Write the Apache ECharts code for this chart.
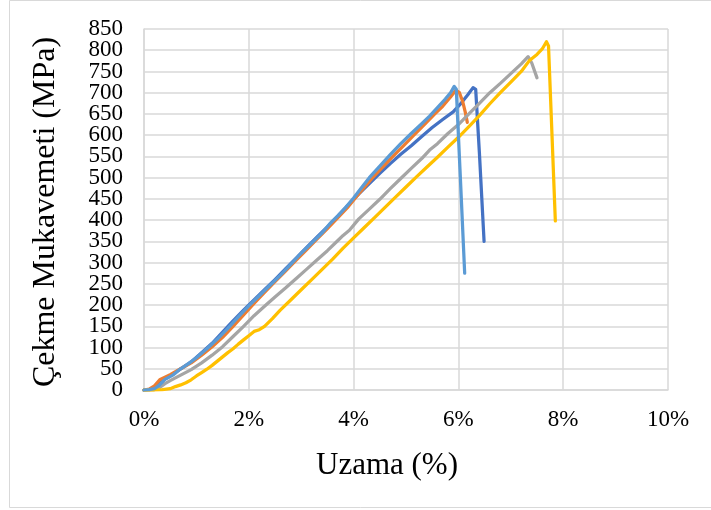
<!DOCTYPE html>
<html>
<head>
<meta charset="utf-8">
<script src="https://cdn.jsdelivr.net/npm/echarts@6/dist/echarts.min.js"></script>
<style>
  html, body { margin: 0; padding: 0; background: #ffffff; }
  #chart { width: 711px; height: 510px; }
</style>
</head>
<body>
<div id="chart"></div>
<script>
// Tensile tests: elongation (%) vs. tensile strength (MPa), five specimens
const xTicks = { min: 0, max: 10, interval: 2 };
const yTicks = { min: 0, max: 850, interval: 50 };

const numune1 = [[0,0],[0.1,1],[0.2,4],[0.3,15],[0.4,26],[0.5,33],[0.7,50],[0.9,66],[1.1,88],[1.3,110],[1.5,136],[1.7,163],[1.9,188],[2.1,212],[2.3,236],[2.5,260],[2.7,285],[2.9,310],[3.1,335],[3.3,360],[3.5,384],[3.7,410],[3.9,436],[4.1,462],[4.3,486],[4.5,510],[4.7,533],[4.9,555],[5.1,575],[5.3,597],[5.5,618],[5.7,637],[5.9,655],[6.05,675],[6.18,695],[6.28,712],[6.33,708],[6.4,560],[6.49,350]];

const numune2 = [[0,0],[0.1,2],[0.2,10],[0.3,24],[0.4,30],[0.5,36],[0.7,50],[0.9,64],[1.1,82],[1.3,102],[1.5,124],[1.7,150],[1.9,177],[2.1,204],[2.3,230],[2.5,255],[2.7,280],[2.9,305],[3.1,330],[3.3,355],[3.5,380],[3.7,406],[3.9,432],[4.1,462],[4.35,498],[4.55,524],[4.75,550],[4.95,575],[5.15,600],[5.35,625],[5.55,650],[5.7,668],[5.85,690],[5.95,706],[6.02,700],[6.08,680],[6.13,655],[6.17,630]];

const numune3 = [[0,0],[0.2,1],[0.3,6],[0.4,15],[0.5,22],[0.7,35],[0.9,48],[1.1,64],[1.3,82],[1.5,102],[1.7,126],[1.9,150],[2.1,175],[2.3,197],[2.5,219],[2.7,240],[2.9,262],[3.1,284],[3.3,306],[3.5,328],[3.7,352],[3.8,364],[3.92,376],[4.1,403],[4.3,426],[4.5,449],[4.7,474],[4.9,498],[5.1,522],[5.3,545],[5.45,565],[5.6,580],[5.8,604],[6.0,625],[6.2,650],[6.4,675],[6.6,700],[6.8,722],[7.0,745],[7.2,768],[7.33,785],[7.4,770],[7.5,735]];

const numune4 = [[0,0],[0.2,0],[0.35,1],[0.5,3],[0.6,8],[0.7,12],[0.8,17],[0.9,24],[1.0,33],[1.1,41],[1.2,49],[1.3,58],[1.4,68],[1.5,78],[1.6,88],[1.7,97],[1.8,108],[1.9,118],[2.0,128],[2.1,138],[2.2,142],[2.3,150],[2.45,168],[2.6,188],[2.8,212],[3.0,236],[3.2,260],[3.4,284],[3.6,308],[3.8,334],[4.0,358],[4.2,382],[4.4,406],[4.6,430],[4.8,454],[5.0,478],[5.2,502],[5.4,525],[5.6,548],[5.8,572],[6.0,595],[6.2,620],[6.4,646],[6.6,674],[6.8,700],[7.0,725],[7.2,750],[7.35,775],[7.5,790],[7.6,803],[7.68,820],[7.72,810],[7.78,620],[7.85,398]];

const numune5 = [[0,0],[0.1,1],[0.2,3],[0.3,12],[0.4,25],[0.55,35],[0.7,50],[0.85,62],[1.0,76],[1.2,97],[1.4,120],[1.6,145],[1.8,172],[2.0,198],[2.2,222],[2.4,246],[2.6,270],[2.8,296],[3.0,322],[3.2,346],[3.4,370],[3.55,392],[3.7,410],[3.85,430],[4.0,452],[4.15,476],[4.3,500],[4.5,527],[4.7,554],[4.9,580],[5.1,604],[5.3,627],[5.45,645],[5.6,665],[5.75,685],[5.85,700],[5.92,715],[5.96,708],[6.03,520],[6.12,275]];

const seriesNames = ['Numune 1', 'Numune 2', 'Numune 3', 'Numune 4', 'Numune 5'];
const seriesData = [numune1, numune2, numune3, numune4, numune5];
const seriesColors = ['#4472C4', '#ED7D31', '#A5A5A5', '#FFC000', '#5B9BD5'];

const serif = '"Liberation Serif", "Times New Roman", serif';
const gridColor = '#d9d9d9';
const yLabelStyle = { fontFamily: serif, fontSize: 23, color: '#000', margin: 21 };

const chart = echarts.init(document.getElementById('chart'), null, { renderer: 'canvas' });

chart.setOption({
  animation: false,
  backgroundColor: '#ffffff',
  textStyle: { fontFamily: serif },
  grid: { left: 144, right: 43, top: 29, bottom: 120, containLabel: false },
  graphic: [{
    type: 'rect',
    silent: true,
    shape: { x: 9.5, y: 0.5, width: 720, height: 507 },
    style: { fill: 'none', stroke: '#d9d9d9', lineWidth: 1 }
  }],
  xAxis: {
    type: 'value',
    min: xTicks.min, max: xTicks.max, interval: xTicks.interval,
    name: 'Uzama (%)',
    nameLocation: 'middle',
    nameGap: 60,
    nameTextStyle: { fontFamily: serif, fontSize: 31, color: '#000', padding: [0, 38, 0, 0] },
    axisLine: { show: true, lineStyle: { color: gridColor, width: 1.5 } },
    axisTick: { show: false },
    axisLabel: { formatter: '{value}%', fontFamily: serif, fontSize: 23, color: '#000', margin: 18,
                 showMinLabel: true, showMaxLabel: true },
    splitLine: { show: true, lineStyle: { color: gridColor, width: 1.5 } }
  },
  yAxis: [{
    // main strength axis: gridlines and the inner tick labels
    type: 'value',
    position: 'left',
    min: yTicks.min, max: yTicks.max, interval: yTicks.interval,
    name: 'Çekme Mukavemeti (MPa)',
    nameLocation: 'middle',
    nameGap: 82,
    nameRotate: 90,
    nameTextStyle: { fontFamily: serif, fontSize: 32, color: '#000', padding: [0, 5, 0, 0] },
    axisLine: { show: true, lineStyle: { color: gridColor, width: 1.5 } },
    axisTick: { show: false },
    axisLabel: Object.assign({ showMinLabel: false, showMaxLabel: false }, yLabelStyle),
    splitLine: { show: true, lineStyle: { color: gridColor, width: 1.5 } }
  }, {
    // same scale, only carries the end labels (0 and 850)
    type: 'value',
    position: 'left',
    offset: 0,
    min: yTicks.min, max: yTicks.max, interval: yTicks.max,
    axisLine: { show: false },
    axisTick: { show: false },
    axisLabel: Object.assign({ showMinLabel: true, showMaxLabel: true }, yLabelStyle),
    splitLine: { show: false }
  }],
  series: seriesData.map((d, i) => ({
    name: seriesNames[i],
    type: 'line',
    yAxisIndex: 0,
    data: d,
    showSymbol: false,
    symbol: 'none',
    smooth: false,
    lineStyle: { color: seriesColors[i], width: 3.25, join: 'round', cap: 'round' },
    z: 2 + i
  }))
});
</script>
</body>
</html>
